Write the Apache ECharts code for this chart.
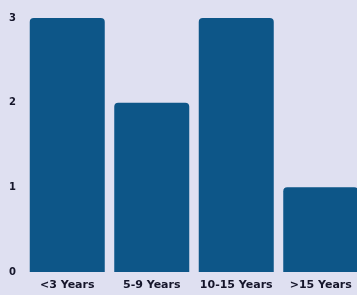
<!DOCTYPE html>
<html>
<head>
<meta charset="utf-8">
<script src="https://cdn.jsdelivr.net/npm/echarts@6/dist/echarts.min.js"></script>
<style>
html,body{margin:0;padding:0;background:#dfe0f1;}
#chart{width:357px;height:295px;}
</style>
</head>
<body>
<div id="chart"></div>
<script>
var categories = ['<3 Years', '5-9 Years', '10-15 Years', '>15 Years'];
var counts = [3, 2, 3, 1];
var yTicks = [0, 1, 2, 3];

var myChart = echarts.init(document.getElementById('chart'));
var option = {
	backgroundColor: '#dfe0f1',
	animation: false,
	grid: {
		left: 25,
		width: 338,
		top: 18,
		bottom: 23,
		outerBoundsMode: 'none'
	},
	xAxis: {
		type: 'category',
		data: categories,
		axisTick: {show: false},
		axisLine: {show: false},
		axisLabel: {
			interval: 0,
			hideOverlap: false,
			color: '#15152a',
			fontFamily: 'DejaVu Sans',
			fontWeight: 'bold',
			fontSize: 11,
			margin: 8
		}
	},
	yAxis: {
		type: 'value',
		min: yTicks[0],
		max: yTicks[yTicks.length - 1],
		interval: 1,
		splitLine: {show: false},
		axisLine: {show: false},
		axisTick: {show: false},
		axisLabel: {
			color: '#15152a',
			fontFamily: 'DejaVu Sans',
			fontWeight: 'bold',
			fontSize: 10,
			margin: 9
		}
	},
	series: [{
		type: 'bar',
		data: counts,
		barWidth: 75,
		itemStyle: {
			color: '#0d5688',
			borderRadius: [4, 4, 0, 0]
		}
	}]
};
myChart.setOption(option);
</script>
</body>
</html>
